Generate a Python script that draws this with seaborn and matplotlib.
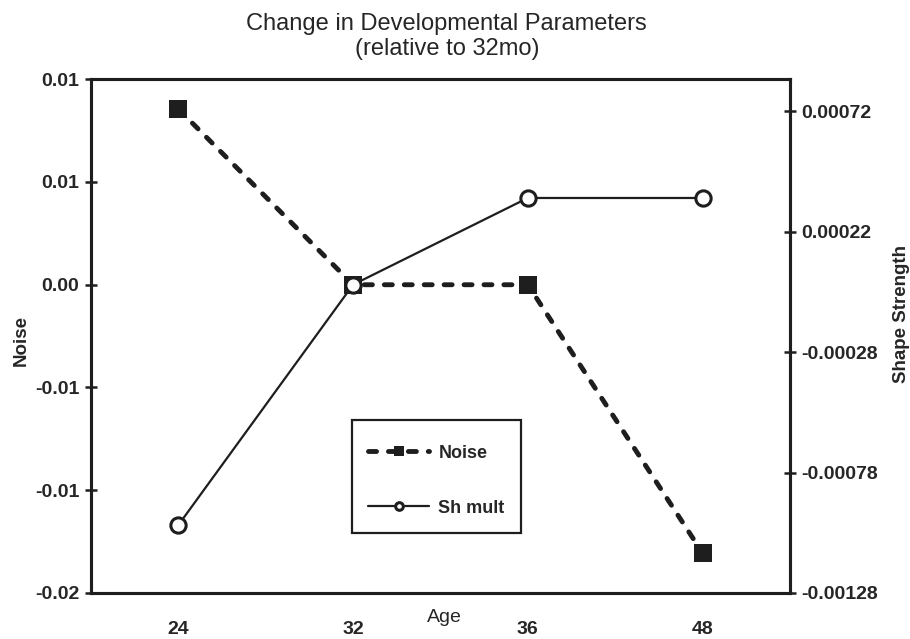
import matplotlib
matplotlib.use('Agg')
import matplotlib.pyplot as plt
from matplotlib.patches import Rectangle
import pandas as pd
import seaborn as sns

# 数据
ages = ['24', '32', '36', '48']
noise = [0.00855, 0.0, 0.0, -0.01305]
shape_strength = [-0.000998, 0.0, 0.00036, 0.00036]

noise_ticks = [0.01, 0.005, 0.0, -0.005, -0.01, -0.015]
noise_tick_labels = ['0.01', '0.01', '0.00', '-0.01', '-0.01', '-0.02']
shape_ticks = [0.00072, 0.00022, -0.00028, -0.00078, -0.00128]
shape_tick_labels = ['0.00072', '0.00022', '-0.00028', '-0.00078', '-0.00128']

sns.set_style('white')
plt.rcParams['font.family'] = ['Liberation Sans', 'DejaVu Sans']

df = pd.DataFrame({'Age': ages, 'Noise': noise, 'Shape': shape_strength})
ink = '#1e1e1e'

fig = plt.figure(figsize=(9.1, 6.39), dpi=100)
ax = fig.add_axes([0.1, 0.072, 0.768, 0.804])
ax2 = ax.twinx()

sns.pointplot(data=df, x='Age', y='Noise', order=ages, errorbar=None,
              color=ink, markers='s', linestyles='--', ax=ax,
              linewidth=3.5, markersize=13, markeredgewidth=0,
              dashes=(1.65, 2.45), dash_capstyle='round')
sns.pointplot(data=df, x='Age', y='Shape', order=ages, errorbar=None,
              color=ink, markers='o', linestyles='-', ax=ax2,
              linewidth=1.6, markersize=11, markeredgewidth=2.2,
              markerfacecolor='white', markeredgecolor=ink)

# 坐标范围
ax.set_xlim(-0.5, 3.5)
ax.set_ylim(-0.015, 0.01)
ax2.set_ylim(-0.00128, 0.000853)

# 刻度
tick_font = dict(fontsize=14, fontweight='bold')
ax.set_yticks(noise_ticks)
ax.set_yticklabels(noise_tick_labels, **tick_font)
ax2.set_yticks(shape_ticks)
ax2.set_yticklabels(shape_tick_labels, **tick_font)
ax.set_xticks(range(len(ages)))
ax.set_xticklabels(ages, **tick_font)
ax.set_xticks([0.5, 1.5, 2.5], minor=True)

ax.tick_params(axis='x', which='major', length=0, pad=20)
ax.tick_params(axis='x', which='minor', direction='inout', length=8, width=1.8, color=ink)
ax.tick_params(axis='y', direction='inout', length=8, width=1.8, pad=4.4, color=ink, left=True)
ax2.tick_params(axis='y', direction='inout', length=8, width=1.8, pad=4, color=ink, right=True)

for a in (ax, ax2):
    for s in a.spines.values():
        s.set_visible(True)
        s.set_color(ink)
        s.set_linewidth(2.2)
    a.grid(False)

# 轴标签
ax.set_xlabel('Age', fontsize=14)
ax.xaxis.set_label_coords(0.506, -0.031)
ax.set_ylabel('Noise', fontsize=13.5, fontweight='bold')
ax.yaxis.set_label_coords(-0.088, 0.492)
ax2.set_ylabel('Shape Strength', fontsize=13.5, fontweight='bold')
ax2.yaxis.set_label_coords(1.147, 0.543)

# 标题
fig.text(0.491, 0.9425, 'Change in Developmental Parameters\n(relative to 32mo)',
         ha='center', va='center', fontsize=17, linespacing=1.2)

# 图例 (边框单独画，上下留白比左右大)
box = (0.373, 0.1167, 0.242, 0.2198)
ax2.add_patch(Rectangle(box[:2], box[2], box[3], transform=ax2.transAxes,
                        facecolor='white', edgecolor=ink, linewidth=1.6, zorder=4.5))
leg = ax2.legend([ax.lines[0], ax2.lines[0]], ['Noise', 'Sh mult'],
                 loc='center', bbox_to_anchor=(box[0], box[1] - 0.008, box[2], box[3]),
                 borderaxespad=0, frameon=False, borderpad=0, labelspacing=2.1,
                 handlelength=3.4, handletextpad=0.5, markerscale=0.5,
                 prop=dict(size=13, weight='bold'))
leg.set_zorder(5)

fig.savefig('out.png', dpi=100)
plt.close(fig)
